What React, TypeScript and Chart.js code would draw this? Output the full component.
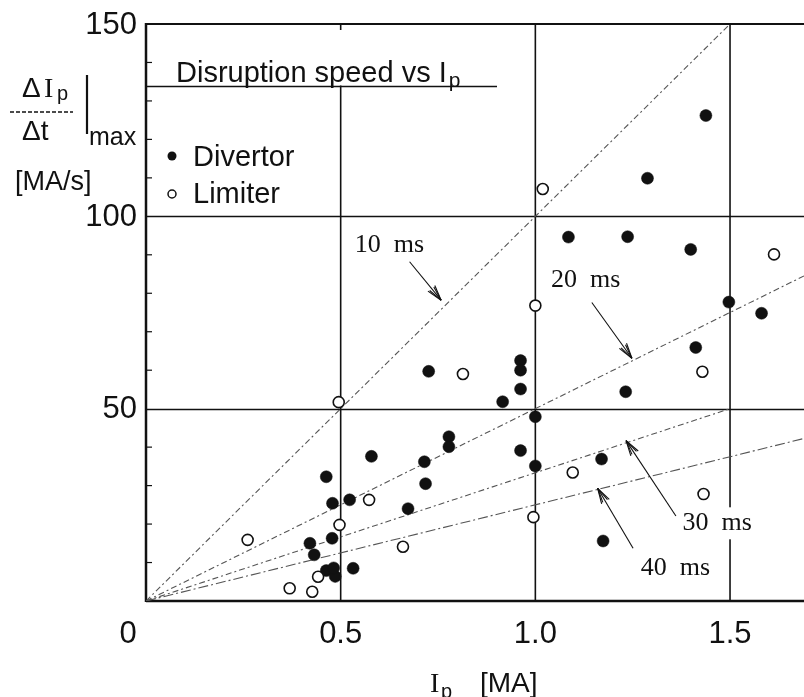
import React, { useEffect, useRef } from "react";
import { Chart, registerables } from "chart.js";
Chart.register(...registerables);

// ---- data ----
const divertorIp = [0.726, 0.579, 0.715, 0.463, 0.718, 0.479, 0.523, 0.673, 0.478, 0.421, 0.432, 0.532, 0.463, 0.486, 0.482, 0.962, 0.962, 0.962, 0.916, 1.0, 0.778, 0.778, 0.962, 1.0, 1.17, 1.232, 1.085, 1.237, 1.438, 1.288, 1.399, 1.497, 1.581, 1.412, 1.174];
const divertorRate = [59.7, 37.6, 36.2, 32.3, 30.5, 25.4, 26.3, 24.0, 16.3, 15.0, 12.0, 8.5, 7.9, 6.4, 8.6, 62.5, 60.0, 55.1, 51.8, 47.9, 42.7, 40.1, 39.1, 35.1, 36.9, 54.4, 94.6, 94.7, 126.2, 109.9, 91.4, 77.7, 74.8, 65.9, 15.6];
const limiterIp = [0.495, 0.573, 0.497, 0.261, 0.66, 0.442, 0.369, 0.427, 0.814, 1.096, 1.019, 1.0, 1.613, 1.429, 1.432, 0.995];
const limiterRate = [51.7, 26.3, 19.8, 15.9, 14.1, 6.3, 3.3, 2.4, 59.0, 33.4, 107.1, 76.8, 90.1, 59.6, 27.8, 21.8];

const refLabels = ["10  ms", "20  ms", "30  ms", "40  ms"];
const refEndIp = [1.5, 1.69, 1.5, 1.69];
const refEndRate = [150, 84.5, 50, 42.25];

const xTickValues = [0, 0.5, 1.0, 1.5];
const xTickLabels = ["0", "0.5", "1.0", "1.5"];
const yTickValues = [50, 100, 150];
const yTickLabels = ["50", "100", "150"];
const yMinorTicks = [10, 20, 30, 40, 60, 70, 80, 90, 110, 120, 130, 140];

// annotation placement (data coordinates)
const refLabelPos = [
  [0.536, 92.6],
  [1.04, 83.5],
  [1.378, 20.2],
  [1.271, 8.5],
];
const arrowFrom = [
  [0.677, 88.2],
  [1.145, 77.6],
  [1.361, 22.1],
  [1.251, 13.7],
];
const arrowTo = [
  [0.758, 78.2],
  [1.248, 63.1],
  [1.233, 41.7],
  [1.16, 29.3],
];

const SANS = '"Liberation Sans", Arial, sans-serif';
const SERIF = '"Liberation Serif", "DejaVu Serif", serif';
const INK = "#111";

function seg(ctx: CanvasRenderingContext2D, x1: number, y1: number, x2: number, y2: number) {
  ctx.beginPath();
  ctx.moveTo(x1, y1);
  ctx.lineTo(x2, y2);
  ctx.stroke();
}

const frame = {
  id: "frame",
  beforeDatasetsDraw(chart: any) {
    const { ctx, chartArea: ca, scales } = chart;
    const x = scales.x;
    const y = scales.y;
    ctx.save();
    ctx.strokeStyle = INK;
    ctx.lineWidth = 1.3;
    for (const v of [50, 100]) {
      const py = Math.round(y.getPixelForValue(v)) + 0.5;
      seg(ctx, ca.left, py, ca.right, py);
    }
    ctx.lineWidth = 1.6;
    const px05 = x.getPixelForValue(0.5);
    seg(ctx, px05, y.getPixelForValue(134), px05, ca.bottom);
    seg(ctx, px05, ca.top, px05, ca.top + 6);
    for (const v of [1.0, 1.5]) {
      const px = x.getPixelForValue(v);
      seg(ctx, px, ca.top, px, ca.bottom);
    }
    ctx.lineWidth = 2;
    seg(ctx, ca.left, ca.top, ca.right, ca.top);
    ctx.lineWidth = 2.5;
    seg(ctx, ca.left, ca.top - 1, ca.left, ca.bottom + 1);
    seg(ctx, ca.left, ca.bottom, ca.right, ca.bottom);
    ctx.lineWidth = 1.2;
    for (const v of yMinorTicks) {
      const py = y.getPixelForValue(v);
      seg(ctx, ca.left, py, ca.left + 6, py);
    }
    ctx.restore();
  },
  afterDatasetsDraw(chart: any) {
    const { ctx, chartArea: ca, scales } = chart;
    const x = scales.x;
    const y = scales.y;
    ctx.save();
    ctx.fillStyle = INK;
    ctx.strokeStyle = INK;

    ctx.font = `26px ${SERIF}`;
    ctx.textAlign = "left";
    ctx.textBaseline = "middle";
    refLabels.forEach((t, i) => {
      const px = x.getPixelForValue(refLabelPos[i][0]);
      const py = y.getPixelForValue(refLabelPos[i][1]);
      const w = ctx.measureText(t).width;
      ctx.fillStyle = "#fff";
      ctx.fillRect(px - 3, py - 16, w + 6, 32);
      ctx.fillStyle = INK;
      ctx.fillText(t, px, py);
    });

    ctx.lineWidth = 1.1;
    arrowFrom.forEach((f, i) => {
      const x1 = x.getPixelForValue(f[0]);
      const y1 = y.getPixelForValue(f[1]);
      const x2 = x.getPixelForValue(arrowTo[i][0]);
      const y2 = y.getPixelForValue(arrowTo[i][1]);
      seg(ctx, x1, y1, x2, y2);
      const a = Math.atan2(y2 - y1, x2 - x1);
      for (const d of [0.28, -0.28, 0.18, -0.18]) {
        const len = Math.abs(d) > 0.2 ? 16 : 15;
        seg(ctx, x2, y2, x2 - len * Math.cos(a + d), y2 - len * Math.sin(a + d));
      }
    });

    ctx.textAlign = "left";
    ctx.textBaseline = "alphabetic";
    ctx.font = `29px ${SANS}`;
    const tx = 176;
    const ty = 82;
    const main = "Disruption speed vs I";
    ctx.fillText(main, tx, ty);
    const mw = ctx.measureText(main).width;
    ctx.font = `21px ${SANS}`;
    ctx.fillText("p", tx + mw + 2, ty + 5);
    ctx.lineWidth = 1.3;
    seg(ctx, ca.left, 86.5, 497, 86.5);

    ctx.font = `29px ${SANS}`;
    ctx.beginPath();
    ctx.arc(172, 156, 4.5, 0, Math.PI * 2);
    ctx.fill();
    ctx.fillText("Divertor", 193, 166);
    ctx.lineWidth = 1.5;
    ctx.beginPath();
    ctx.arc(172, 194, 4, 0, Math.PI * 2);
    ctx.stroke();
    ctx.fillText("Limiter", 193, 203);
    ctx.restore();
  },
  afterDraw(chart: any) {
    const { ctx, scales } = chart;
    const x = scales.x;
    const y = scales.y;
    ctx.save();
    ctx.fillStyle = INK;
    ctx.strokeStyle = INK;
    ctx.font = `31px ${SANS}`;
    ctx.textAlign = "right";
    ctx.textBaseline = "middle";
    yTickValues.forEach((v, i) => {
      ctx.fillText(yTickLabels[i], 137, y.getPixelForValue(v) + 1);
    });
    ctx.textAlign = "center";
    xTickValues.forEach((v, i) => {
      const off = v === 0 ? -18 : 0;
      ctx.fillText(xTickLabels[i], x.getPixelForValue(v) + off, 634);
    });
    ctx.textAlign = "left";
    ctx.textBaseline = "alphabetic";
    ctx.font = `28px ${SERIF}`;
    ctx.fillText("I", 430, 692);
    ctx.font = `20px ${SANS}`;
    ctx.fillText("p", 441, 698);
    ctx.font = `28px ${SANS}`;
    ctx.fillText("[MA]", 480, 692);

    ctx.font = `28px ${SANS}`;
    ctx.fillText("\u0394", 22, 97);
    ctx.font = `28px ${SERIF}`;
    ctx.fillText("I", 44, 97);
    ctx.font = `20px ${SANS}`;
    ctx.fillText("p", 57, 100);
    ctx.lineWidth = 1.3;
    ctx.setLineDash([4, 2]);
    seg(ctx, 10, 112, 73, 112);
    ctx.setLineDash([]);
    ctx.font = `28px ${SANS}`;
    ctx.fillText("\u0394t", 22, 140);
    ctx.lineWidth = 2.2;
    seg(ctx, 87, 75, 87, 134);
    ctx.font = `25px ${SANS}`;
    ctx.fillText("max", 89, 145);
    ctx.font = `27px ${SANS}`;
    ctx.fillText("[MA/s]", 15, 190);
    ctx.restore();
  },
};

export default function App() {
  const ref = useRef<HTMLCanvasElement | null>(null);
  useEffect(() => {
    if (!ref.current) return;
    const refDatasets = refLabels.map((_, i) => ({
      type: "line" as const,
      data: [
        { x: 0, y: 0 },
        { x: refEndIp[i], y: refEndRate[i] },
      ],
      borderColor: "#555",
      borderWidth: 1.1,
      borderDash: i === 3 ? [10, 3, 2, 3] : [6, 3, 2, 3],
      pointRadius: 0,
      fill: false,
      order: 5,
    }));
    const chart = new Chart(ref.current, {
      type: "scatter",
      data: {
        datasets: [
          ...refDatasets,
          {
            label: "Divertor",
            data: divertorIp.map((v, i) => ({ x: v, y: divertorRate[i] })),
            pointRadius: 6,
            pointBackgroundColor: INK,
            pointBorderColor: INK,
            pointBorderWidth: 0.5,
            order: 1,
          },
          {
            label: "Limiter",
            data: limiterIp.map((v, i) => ({ x: v, y: limiterRate[i] })),
            pointRadius: 5.5,
            pointBackgroundColor: "#fff",
            pointBorderColor: INK,
            pointBorderWidth: 1.6,
            order: 0,
          },
        ] as any,
      },
      options: {
        animation: false,
        responsive: false,
        layout: { autoPadding: false, padding: { left: 146, right: 0, top: 24, bottom: 96 } },
        plugins: { legend: { display: false }, tooltip: { enabled: false } },
        scales: {
          x: { type: "linear", min: 0, max: 1.69, display: false },
          y: { type: "linear", min: 0, max: 150, display: false },
        },
      },
      plugins: [frame],
    });
    return () => chart.destroy();
  }, []);
  return (
    <div style={{ position: "absolute", left: 0, top: 0, width: 804, height: 697, background: "#fff" }}>
      <canvas ref={ref} width={804} height={697} style={{ display: "block" }} />
    </div>
  );
}
